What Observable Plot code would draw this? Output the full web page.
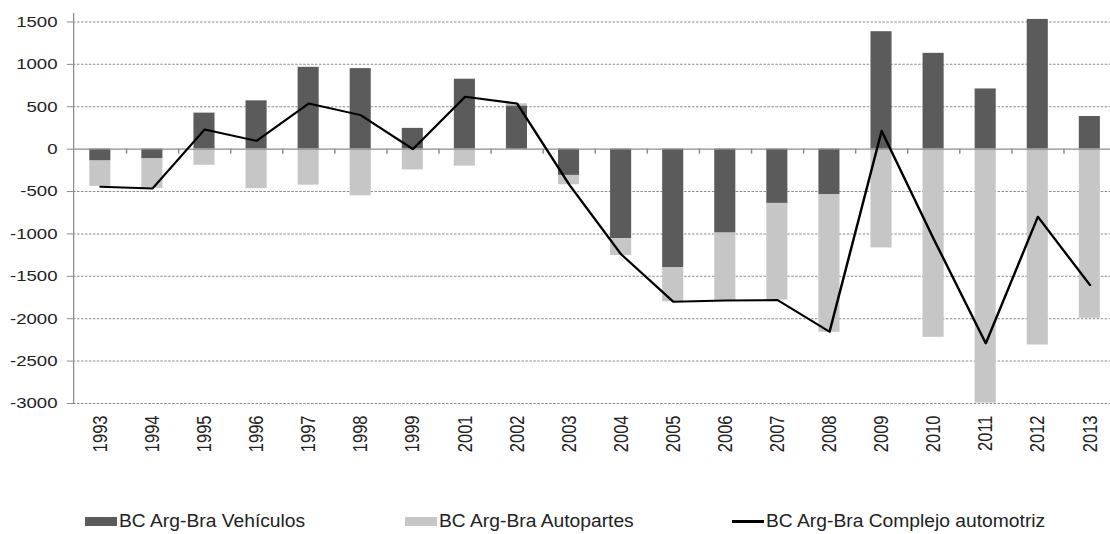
<!DOCTYPE html>
<html><head><meta charset="utf-8">
<script src="https://cdn.jsdelivr.net/npm/d3@7"></script>
<script src="https://cdn.jsdelivr.net/npm/@observablehq/plot@0.6"></script>
<style>
body{margin:0;background:#fff;font-family:"Liberation Sans",Arial,sans-serif;}
#wrap{position:relative;width:1110px;height:534px;overflow:hidden;background:#fff;}
#chart svg{display:block;}
.sw{position:absolute;}
.lt{position:absolute;white-space:nowrap;font-size:17.5px;color:#222;transform-origin:left center;line-height:20px;}
</style></head><body>
<div id="wrap"><div id="chart"></div><div id="legend"></div></div>
<script>
const years = ["1993","1994","1995","1996","1997","1998","1999","2001","2002","2003","2004","2005","2006","2007","2008","2009","2010","2011","2012","2013"];
const vehiculos = [-140,-115,425,570,965,950,245,825,510,-310,-1055,-1400,-990,-640,-535,1385,1130,710,1530,385];
const autopartes = [-300,-350,-190,-465,-425,-550,-245,-200,25,-110,-200,-400,-795,-1140,-1625,-1165,-2220,-2995,-2310,-1995];
const complejo = [-444,-464,232,98,538,401,0,617,538,-417,-1242,-1800,-1784,-1780,-2154,216,-1060,-2291,-798,-1603];
const seriesNames = ["BC Arg-Bra Vehículos","BC Arg-Bra Autopartes","BC Arg-Bra Complejo automotriz"];
const yTicks = [1500,1000,500,0,-500,-1000,-1500,-2000,-2500,-3000];
const seriesColors = ["#5b5b5b","#c6c6c6","#000000"];

const SX = 1.24;             // horizontal stretch of the reference picture
const W = 1110 / SX;
const H = 470, MT = 13, MB = 67;
const x0 = 73 / SX, x1 = 1117 / SX;
const step = (x1 - x0) / years.length;
const yDomain = [-3000, 1600];
const tickLen = 5 * (yDomain[1] - yDomain[0]) / (H - MT - MB);

const bars = years.flatMap((yr, i) => [
  {year: yr, serie: seriesNames[0], value: vehiculos[i]},
  {year: yr, serie: seriesNames[1], value: autopartes[i]}
]);
const lineData = years.map((yr, i) => ({year: yr, value: complejo[i]}));

const plot = Plot.plot({
  width: W, height: H,
  marginTop: MT, marginBottom: MB, marginLeft: x0, marginRight: 0,
  style: {fontFamily: "'Liberation Sans', Arial, sans-serif", fontSize: "15px", color: "#222", background: "#fff", overflow: "visible"},
  x: {domain: years, range: [x0, x1], paddingInner: 0.6, paddingOuter: 0.3, label: null, axis: null},
  y: {domain: yDomain, label: null, axis: null},
  color: {domain: seriesNames.slice(0, 2), range: seriesColors.slice(0, 2)},
  marks: [
    Plot.ruleY(yTicks.filter(d => d !== 0), {stroke: "#8c8c8c", strokeDasharray: "2,1.2", strokeWidth: 1}),
    Plot.barY(bars, {x: "year", y: "value", fill: "serie"}),
    Plot.ruleY([0], {stroke: "#8c8c8c", strokeWidth: 1.2}),
    Plot.ruleX(years, {x: d => d, y1: 0, y2: -tickLen, dx: step / 2, stroke: "#8c8c8c", strokeWidth: 1.2}),
    Plot.lineY(lineData, {x: "year", y: "value", stroke: seriesColors[2], strokeWidth: 2}),
    Plot.axisY({ticks: yTicks, tickFormat: d => String(d), tickSize: 5, tickPadding: 8, stroke: "#8c8c8c", fill: "#222", label: null}),
    Plot.axisX({tickSize: 0, tickRotate: -90, tickPadding: 12, fill: "#222", label: null, fontSize: "16.5px"}),
    Plot.frame({anchor: "left", stroke: "#8c8c8c"})
  ]
});
plot.setAttribute("preserveAspectRatio", "none");
plot.setAttribute("width", 1110);
plot.style.width = "1110px";
plot.style.height = H + "px";
plot.style.maxWidth = "none";
document.getElementById("chart").appendChild(plot);

// legend
const legend = document.getElementById("legend");
const items = [
  {sx: 85, tx: 119, kind: "box"},
  {sx: 405, tx: 439, kind: "box"},
  {sx: 732, tx: 766, kind: "line"}
];
items.forEach((it, i) => {
  const sw = document.createElement("div");
  sw.className = "sw";
  sw.style.left = it.sx + "px";
  sw.style.width = "32px";
  sw.style.background = seriesColors[i];
  if (it.kind === "box") { sw.style.top = "517px"; sw.style.height = "9px"; }
  else { sw.style.top = "520px"; sw.style.height = "3px"; }
  legend.appendChild(sw);
  const t = document.createElement("div");
  t.className = "lt";
  t.textContent = seriesNames[i];
  t.style.left = it.tx + "px";
  t.style.top = "511px";
  t.style.transform = "scaleX(1.1)";
  legend.appendChild(t);
});
</script>
</body></html>
